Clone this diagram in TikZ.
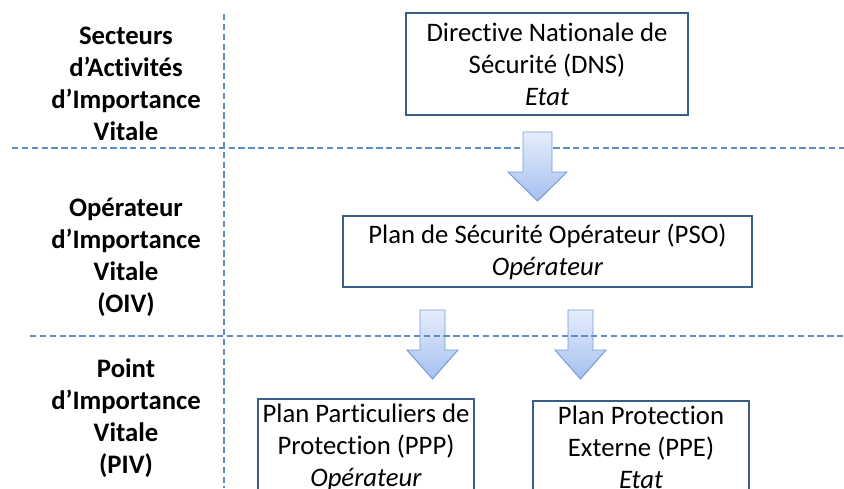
\documentclass[tikz,border=0pt]{standalone}
\usepackage{fontspec}
\setmainfont{Carlito}[Ligatures=NoCommon]
\usepackage{tikz}

\definecolor{boxblue}{RGB}{56,93,138}
\definecolor{lineblue}{RGB}{95,141,200}
\definecolor{arrowline}{RGB}{115,155,215}
\definecolor{arrowtop}{RGB}{230,237,252}
\definecolor{arrowbot}{RGB}{165,192,240}

\tikzset{
  level/.style={font=\fontsize{19}{22.8}\selectfont\bfseries, align=center},
  planbox/.style={draw=boxblue, line width=1.4pt, fill=white, align=center,
    font=\fontsize{19}{22.8}\selectfont},
  sep/.style={draw=lineblue, line width=0.9pt, dash pattern=on 4.5pt off 2.5pt},
  blockarrow/.style={draw=arrowline, line width=0.7pt, top color=arrowtop, bottom color=arrowbot}
}

\begin{document}
\begin{tikzpicture}[x=0.025cm, y=-0.025cm]
				\useasboundingbox (0,0) rectangle (844,488);
				\clip (0,0) rectangle (844,488);
				% separations
				\draw[sep] (224,14) -- (224,488);
				\draw[sep] (12,148) -- (844,148);
				% niveaux
				\node[level] (sav) at (126,84) {Secteurs\\d’Activités\\d’Importance\\Vitale};
				\node[level] (oiv) at (126,257) {Opérateur\\d’Importance\\Vitale\\(OIV)};
				\node[level] (piv) at (126,418) {Point\\d’Importance\\Vitale\\(PIV)};
				% plans
				\node[planbox, minimum width=7.05cm, minimum height=2.55cm] (dns) at (547,64) {Directive Nationale de\\Sécurité (DNS)\\\textit{Etat}};
				\node[planbox, minimum width=10.225cm, minimum height=1.775cm] (pso) at (547.5,251.5) {Plan de Sécurité Opérateur (PSO)\\\textit{Opérateur}};
				\node[planbox, minimum width=5.35cm, minimum height=2.2cm] (ppp) at (366,447) {Plan Particuliers de\\Protection (PPP)\\\textit{Opérateur}};
				\node[planbox, minimum width=5.4cm, minimum height=2.2cm] (ppe) at (641,447) {Plan Protection\\Externe (PPE)\\\textit{Etat}};
				% fleches
				\shade[blockarrow] (523,132) -- (552,132) -- (552,172) -- (567,172) -- (537.5,201) -- (508,172) -- (523,172) -- cycle;
				\shade[blockarrow] (420,310) -- (445,310) -- (445,350) -- (458,350) -- (432.5,379) -- (407,350) -- (420,350) -- cycle;
				\shade[blockarrow] (568,310) -- (593,310) -- (593,350) -- (606,350) -- (580.5,379) -- (555,350) -- (568,350) -- cycle;
				\draw[sep] (30,336) -- (844,336);
			\end{tikzpicture}
\end{document}
